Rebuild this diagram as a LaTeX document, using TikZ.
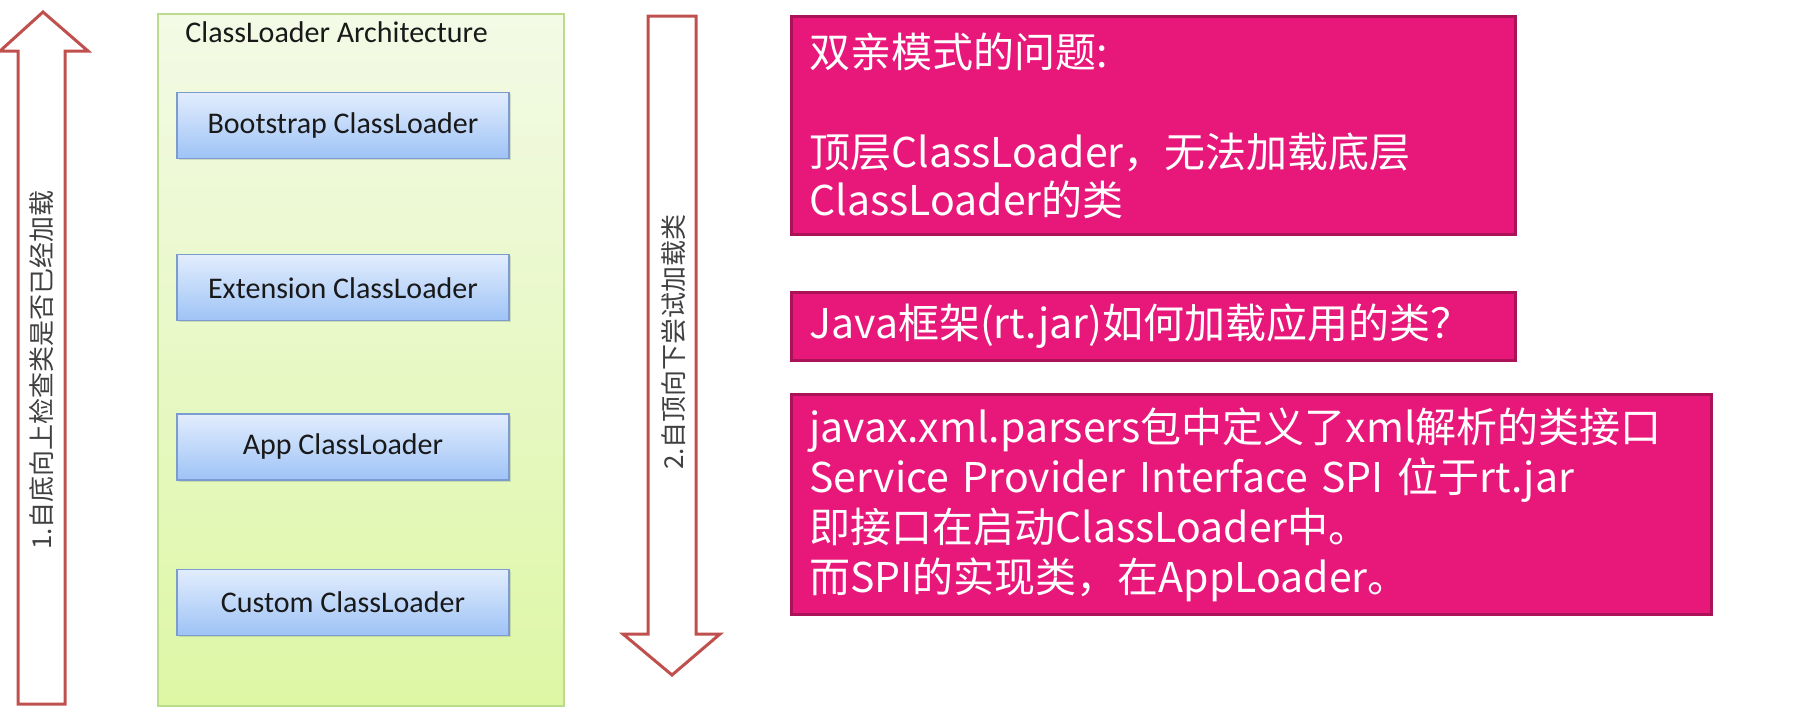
\documentclass[tikz,border=0pt]{standalone}
\usepackage{fontspec}
\setmainfont{Carlito}
\newfontfamily\cjkfont{Noto Sans CJK SC}
\usepackage{tikz}
\usetikzlibrary{positioning, shadows}
\definecolor{pinkfill}{RGB}{232,23,122}
\definecolor{pinkline}{RGB}{172,18,88}
\definecolor{arrowred}{RGB}{192,80,77}
\definecolor{greenline}{RGB}{186,220,140}
\definecolor{greentop}{RGB}{243,250,230}
\definecolor{greenbot}{RGB}{221,247,165}
\definecolor{bluetop}{RGB}{226,237,253}
\definecolor{bluebot}{RGB}{158,195,246}
\definecolor{blueline}{RGB}{122,156,206}
\tikzstyle{blockarrow}=[%
      draw=arrowred, line width=1.5pt, fill=white, line join=miter
]
\tikzstyle{arrowtext}=[%
      rotate=90, text=black!75, font=\cjkfont\fontsize{13pt}{15pt}\selectfont, inner sep=0pt
]
\tikzstyle{arch}=[%
      rectangle, draw=greenline, line width=0.8pt, top color=greentop, bottom color=greenbot,
      minimum width=203pt, minimum height=346pt, inner sep=0pt
]
\tikzstyle{loader}=[%
      rectangle, draw=blueline, line width=0.6pt, top color=bluetop, bottom color=bluebot,
      drop shadow={opacity=0.25, shadow xshift=0.8pt, shadow yshift=-0.8pt},
      minimum width=166pt, minimum height=33pt, inner sep=0pt,
      text=black!90, font=\fontsize{15pt}{18pt}\selectfont
]
\tikzstyle{note}=[%
      rectangle, draw=pinkline, line width=1.5pt, fill=pinkfill, text=white,
      inner xsep=9pt, inner ysep=0pt, align=left
]

\begin{document}
\begin{tikzpicture}[x=0.5pt, y=-0.5pt]
    \useasboundingbox (0,0) rectangle (1794,714);

    % arrows
    \draw[blockarrow] (18,704) -- (18,51) -- (0,51) -- (43,12) -- (88,51) -- (65,51) -- (65,704) -- cycle;
    \node[arrowtext] (up) at (42,370) {1.自底向上检查类是否已经加载};
    \draw[blockarrow] (648,16) -- (648,634) -- (623,634) -- (672,675) -- (720,634) -- (696,634) -- (696,16) -- cycle;
    \node[arrowtext] (down) at (674,342) {2.自顶向下尝试加载类};

    % classloader architecture
    \node[arch] (arch) at (361,360) {};
    \node[anchor=west, text=black!90, font=\fontsize{15pt}{18pt}\selectfont, inner sep=0pt] (title) at (185,32) {ClassLoader Architecture};
    \node[loader] (boot) at (343,125.5) {Bootstrap ClassLoader};
    \node[loader] (ext) [below = 47.5pt of boot] {Extension ClassLoader};
    \node[loader] (app) [below = 46pt of ext] {App ClassLoader};
    \node[loader] (custom) [below = 44pt of app] {Custom ClassLoader};

    % notes
    \node[note, anchor=north west, minimum width=362pt, minimum height=109pt, text width=344pt,
          font=\cjkfont\fontsize{20.5pt}{24pt}\selectfont] (problem) at (790,15)
          {双亲模式的问题:\\[26pt]顶层ClassLoader，无法加载底层\\ClassLoader的类};
    \node[note, minimum width=362pt, minimum height=34pt, text width=344pt,
          font=\cjkfont\fontsize{20.5pt}{24pt}\selectfont] (question) [below = 27.5pt of problem.south west, anchor=north west]
          {Java框架(rt.jar)如何加载应用的类？};
    \node[note, minimum width=460pt, minimum height=110pt, text width=442pt,
          font=\cjkfont\fontsize{20.5pt}{25pt}\selectfont] (spi) [below = 15.5pt of question.south west, anchor=north west]
          {javax.xml.parsers包中定义了xml解析的类接口\\Service Provider Interface SPI 位于rt.jar\\即接口在启动ClassLoader中。\\而SPI的实现类，在AppLoader。};

\end{tikzpicture}
\end{document}
